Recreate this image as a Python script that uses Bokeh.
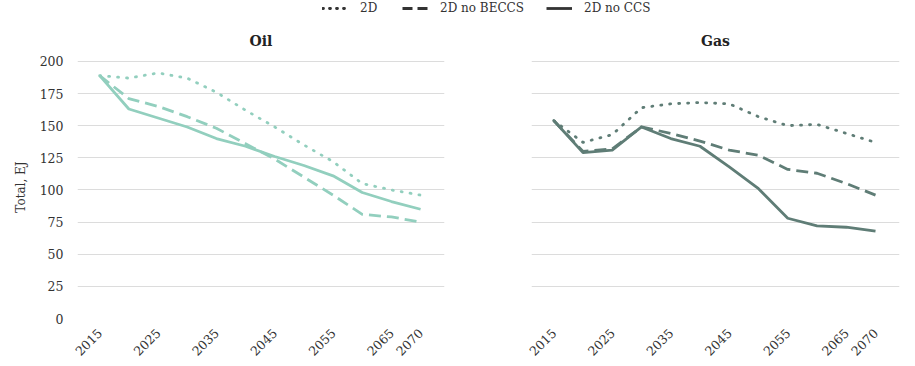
import math
from bokeh.plotting import figure
from bokeh.models import FixedTicker, Legend, LegendItem, Range1d
from bokeh.layouts import column, row
from bokeh.embed import file_html
from bokeh.resources import INLINE

years = [2015, 2020, 2025, 2030, 2035, 2040, 2045, 2050, 2055, 2060, 2065, 2070]
oil_2d = [189, 187, 191, 187, 176, 162, 149, 135, 122, 105, 100, 96]
oil_no_beccs = [189, 171, 165, 157, 148, 136, 124, 110, 96, 81, 79, 75]
oil_no_ccs = [189, 163, 156, 149, 140, 134, 126, 119, 111, 98, 91, 85]
gas_2d = [154, 137, 143, 164, 167, 168, 167, 157, 150, 151, 144, 137]
gas_no_beccs = [154, 130, 132, 149, 144, 138, 131, 127, 116, 113, 105, 96]
gas_no_ccs = [154, 129, 131, 149, 140, 134, 118, 101, 78, 72, 71, 68]

x_ticks = [2015, 2025, 2035, 2045, 2055, 2065, 2070]
y_ticks = [0, 25, 50, 75, 100, 125, 150, 175, 200]
series_names = ["2D", "2D no BECCS", "2D no CCS"]

FONT = "DejaVu Serif"
OIL_COLOR = "#92cfbe"
GAS_COLOR = "#5f7d76"
GRID = "#dcdcdc"
TEXT = "#333333"

styles = [
    dict(line_dash="1 8", line_cap="round"),
    dict(line_dash="12 6", line_cap="butt"),
    dict(line_dash="solid", line_cap="butt"),
]


def make_panel(title, series, color, width, left, right, show_y):
    p = figure(width=width, height=347, toolbar_location=None, output_backend="svg",
               x_range=Range1d(2011.2, 2074.1), y_range=Range1d(0, 204.6),
               min_border_left=left, min_border_right=right,
               min_border_top=39, min_border_bottom=43,
               outline_line_color=None, title=title)
    p.title.align = "center"
    p.title.text_font = FONT
    p.title.text_font_size = "14px"
    p.title.text_font_style = "bold"
    p.title.text_color = "#222222"
    p.title.standoff = 14
    for vals, st in zip(series, styles):
        p.line(years, vals, line_color=color, line_width=2.8, line_join="round", **st)
    p.xaxis.ticker = FixedTicker(ticks=x_ticks)
    p.xaxis.major_label_orientation = math.pi / 4
    p.yaxis.ticker = FixedTicker(ticks=y_ticks)
    p.ygrid.ticker = FixedTicker(ticks=y_ticks)
    p.xgrid.grid_line_color = None
    p.ygrid.grid_line_color = GRID
    for ax in p.axis:
        ax.axis_line_color = None
        ax.major_tick_line_color = None
        ax.minor_tick_line_color = None
        ax.major_label_text_font = FONT
        ax.major_label_text_font_size = "12.5px"
        ax.major_label_text_color = TEXT
        ax.major_label_standoff = 6
    p.yaxis.major_label_standoff = 8
    if show_y:
        p.yaxis.axis_label = "Total, EJ"
        p.yaxis.axis_label_text_font = FONT
        p.yaxis.axis_label_text_font_size = "12px"
        p.yaxis.axis_label_text_font_style = "normal"
        p.yaxis.axis_label_text_color = TEXT
        p.yaxis.axis_label_standoff = 9
    else:
        p.yaxis.visible = False
    return p


p1 = make_panel("Oil", [oil_2d, oil_no_beccs, oil_no_ccs], OIL_COLOR, 470, 77, 26, True)
p2 = make_panel("Gas", [gas_2d, gas_no_beccs, gas_no_ccs], GAS_COLOR, 437, 61, 8, False)

# legend strip
lg = figure(width=907, height=16, toolbar_location=None, output_backend="svg",
            x_range=Range1d(0, 1), y_range=Range1d(0, 1), min_border=0,
            outline_line_color=None)
lg.axis.visible = False
lg.grid.visible = False
items = []
leg_styles = [
    dict(line_dash="1 6", line_cap="round"),
    dict(line_dash="10 5", line_cap="butt"),
    dict(line_dash="solid", line_cap="butt"),
]
for name, st in zip(series_names, leg_styles):
    r = lg.line([-10, -9], [-10, -9], line_color="#333333", line_width=2.8, **st)
    items.append(LegendItem(label=name, renderers=[r]))
legend = Legend(items=items, orientation="horizontal", location=(322, 0),
                border_line_color=None, background_fill_alpha=0,
                padding=0, margin=0, spacing=22, label_standoff=12,
                glyph_width=26, glyph_height=16, label_height=16,
                label_text_font=FONT, label_text_font_size="12px",
                label_text_color=TEXT)
lg.add_layout(legend, "center")

layout = column(lg, row(p1, p2))
open("out.html", "w").write(file_html(layout, INLINE))
